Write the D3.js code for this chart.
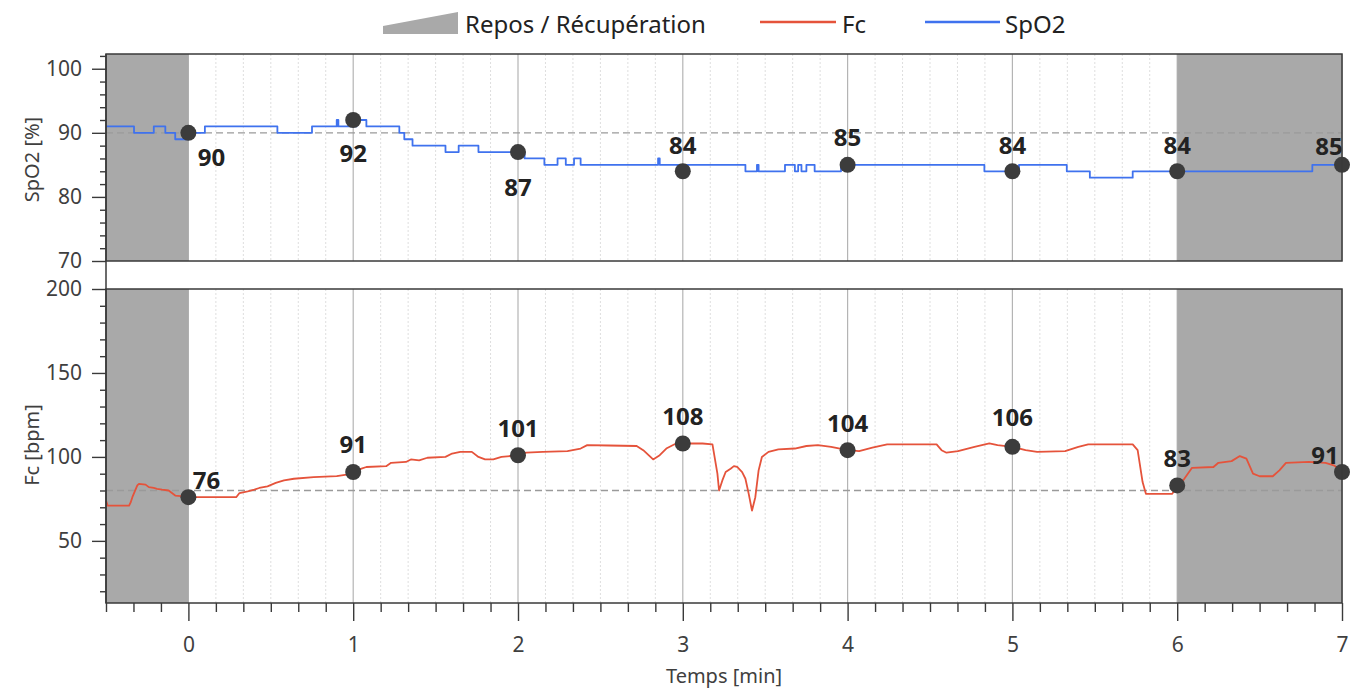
<!DOCTYPE html>
<html>
<head>
<meta charset="utf-8">
<script src="https://cdn.jsdelivr.net/npm/d3@7"></script>
<style>
  html, body { margin: 0; padding: 0; background: #ffffff; }
  svg { display: block; font-family: "Noto Sans", "Open Sans", sans-serif; }
</style>
</head>
<body>
<svg id="chart" width="1365" height="691"></svg>
<script>
// ---- Data -------------------------------------------------------------
// Time axis (minutes) and shaded rest / recovery intervals
const timeDomain = [-0.5, 7];
const restPeriods = [[-0.5, 0], [6, 7]];

// SpO2 (%) step trace: [minute, value] — value holds until the next entry
const spo2Trace = [
  [-0.50, 91], [-0.33, 90], [-0.21, 91], [-0.14, 90], [-0.08, 89], [0.00, 90],
  [0.10, 91], [0.54, 90], [0.75, 91], [0.90, 92], [0.91, 91], [1.02, 92],
  [1.08, 91], [1.28, 90], [1.31, 89], [1.36, 88], [1.56, 87], [1.64, 88],
  [1.76, 87], [2.04, 86], [2.16, 85], [2.24, 86], [2.29, 85], [2.34, 86],
  [2.38, 85], [2.85, 86], [2.86, 85], [3.38, 84], [3.45, 85], [3.46, 84],
  [3.62, 85], [3.68, 84], [3.70, 85], [3.72, 84], [3.75, 85], [3.80, 84],
  [3.96, 85], [4.83, 84], [5.04, 85], [5.33, 84], [5.47, 83], [5.73, 84],
  [6.82, 85], [7.00, 85]
];

// Heart rate Fc (bpm) trace: [minute, value]
const fcTrace = [
  [-0.50, 74], [-0.49, 71], [-0.36, 71], [-0.35, 73], [-0.34, 76], [-0.31, 83],
  [-0.30, 84], [-0.26, 83.5], [-0.24, 82], [-0.21, 81.5], [-0.19, 81], [-0.16, 80.5],
  [-0.12, 80], [-0.08, 77], [-0.03, 76.5], [0.00, 76], [0.10, 76], [0.29, 76],
  [0.31, 78.5], [0.36, 79.5], [0.40, 80.5], [0.43, 81.5], [0.48, 82.5], [0.53, 84.5],
  [0.58, 86], [0.64, 87], [0.76, 88], [0.90, 88.5], [0.96, 89.5], [1.00, 91],
  [1.05, 93], [1.08, 94], [1.20, 94.5], [1.23, 96.5], [1.32, 97], [1.35, 98.5],
  [1.40, 98], [1.45, 99.5], [1.56, 100], [1.60, 102], [1.65, 103], [1.72, 103],
  [1.76, 100], [1.80, 98.5], [1.85, 98.5], [1.90, 100], [2.00, 101], [2.05, 102.5],
  [2.15, 103], [2.30, 103.5], [2.38, 105], [2.42, 107], [2.55, 106.8], [2.72, 106.5],
  [2.76, 104], [2.82, 98.5], [2.86, 101], [2.90, 105], [2.95, 107.5], [3.00, 108],
  [3.12, 108], [3.18, 107.5], [3.21, 90], [3.22, 80], [3.24, 86], [3.26, 91],
  [3.29, 93], [3.31, 94.5], [3.33, 94], [3.36, 91], [3.38, 87], [3.40, 78],
  [3.42, 68], [3.44, 76], [3.46, 92], [3.48, 100], [3.52, 103], [3.58, 104.5],
  [3.68, 105], [3.75, 106.5], [3.82, 107], [3.90, 106], [4.00, 104], [4.07, 103.5],
  [4.15, 105.5], [4.24, 107.5], [4.54, 107.5], [4.57, 104], [4.60, 102.5], [4.67, 103.5],
  [4.77, 106], [4.86, 108], [4.91, 107], [5.00, 106], [5.08, 104], [5.15, 103],
  [5.32, 103.5], [5.40, 106], [5.46, 107.5], [5.73, 107.5], [5.76, 104], [5.79, 85],
  [5.81, 78], [5.97, 78], [6.00, 83], [6.04, 86.5], [6.09, 93.5], [6.22, 94],
  [6.25, 96.5], [6.33, 97.5], [6.38, 100.5], [6.42, 99], [6.46, 90], [6.50, 88.5],
  [6.58, 88.5], [6.62, 92], [6.66, 96.5], [6.80, 97], [6.90, 96.5], [6.95, 95],
  [7.00, 91.5]
];

// Per-minute summary markers
const markerMinutes = [0, 1, 2, 3, 4, 5, 6, 7];
const spo2Markers = [90, 92, 87, 84, 85, 84, 84, 85];
const fcMarkers = [76, 91, 101, 108, 104, 106, 83, 91];

// Reference levels (dashed)
const spo2Reference = 90;
const fcReference = 80;

// Axis ticks
const xTickLabels = [0, 1, 2, 3, 4, 5, 6, 7];
const spo2TickLabels = [70, 80, 90, 100];
const fcTickLabels = [50, 100, 150, 200];

// Legend entries
const legendLabels = ["Repos / Récupération", "Fc", "SpO2"];

// ---- Layout & style ----------------------------------------------------
const colors = {
  rest: "#a9a9a9",
  fc: "#e5533b",
  spo2: "#3f72ee",
  marker: "#3c3c3c",
  frame: "#3a3a3a",
  text: "#3f3f3f",
  label: "#222222",
  ref: "#9a9a9a",
  gridMajor: "#b4b4b4",
  gridMinor: "#dedede"
};
const plotLeft = 106, plotRight = 1342;
const topPanel = { y0: 54, y1: 261 };
const bottomPanel = { y0: 289, y1: 603 };
const tickFont = 21, titleFont = 20, legendFont = 24, markerFont = 24;

// Label placement per marker: [dx, dy] of label centre from marker centre
const spo2LabelOffsets = [[23, 24], [0, 32], [0, 34], [0, -27], [0, -28], [0, -27], [0, -27], [-13, -19]];
const fcLabelOffsets = [[18, -18], [0, -29], [0, -28], [0, -28], [0, -28], [0, -30], [0, -28], [-17, -18]];

const svg = d3.select("#chart");

const x = d3.scaleLinear().domain(timeDomain).range([plotLeft, plotRight]);
const ySpo2 = d3.scaleLinear().domain([70, 102.3]).range([topPanel.y1, topPanel.y0]);
const yFc = d3.scaleLinear().domain([13, 200]).range([bottomPanel.y1, bottomPanel.y0]);

const minorMinutes = d3.range(-3, 43).map(k => k / 6)
  .filter(t => Math.abs(t - Math.round(t)) > 1e-6);

function drawPanel(panel, yScale, trace, curve, lineColor, refLevel, markers, offsets) {
  const g = svg.append("g");
  // vertical grid
  g.selectAll("line.minor").data(minorMinutes)
    .join("line")
    .attr("x1", d => x(d)).attr("x2", d => x(d))
    .attr("y1", panel.y0).attr("y2", panel.y1)
    .attr("stroke", colors.gridMinor).attr("stroke-width", 1)
    .attr("stroke-dasharray", "2,2");
  g.selectAll("line.major").data(xTickLabels)
    .join("line")
    .attr("x1", d => x(d)).attr("x2", d => x(d))
    .attr("y1", panel.y0).attr("y2", panel.y1)
    .attr("stroke", colors.gridMajor).attr("stroke-width", 1.2);
  // rest / recovery shading
  g.selectAll("rect.rest").data(restPeriods)
    .join("rect")
    .attr("x", d => x(d[0])).attr("width", d => x(d[1]) - x(d[0]))
    .attr("y", panel.y0).attr("height", panel.y1 - panel.y0)
    .attr("fill", colors.rest);
  // reference level
  g.append("line")
    .attr("x1", plotLeft).attr("x2", plotRight)
    .attr("y1", yScale(refLevel)).attr("y2", yScale(refLevel))
    .attr("stroke", colors.ref).attr("stroke-width", 1.4)
    .attr("stroke-dasharray", "7,4");
  // trace
  const line = d3.line().x(d => x(d[0])).y(d => yScale(d[1])).curve(curve);
  g.append("path").datum(trace)
    .attr("d", line)
    .attr("fill", "none")
    .attr("stroke", lineColor)
    .attr("stroke-width", 1.8)
    .attr("stroke-linejoin", "round");
  // markers
  const pts = markerMinutes.map((t, i) => ({ t, v: markers[i], off: offsets[i] }));
  g.selectAll("circle.m").data(pts).join("circle")
    .attr("cx", d => x(d.t)).attr("cy", d => yScale(d.v))
    .attr("r", 8).attr("fill", colors.marker);
  g.selectAll("text.m").data(pts).join("text")
    .attr("x", d => x(d.t) + d.off[0])
    .attr("y", d => yScale(d.v) + d.off[1])
    .attr("text-anchor", "middle")
    .attr("dominant-baseline", "central")
    .attr("font-size", markerFont).attr("font-weight", 700)
    .attr("fill", colors.label)
    .text(d => d.v);
  // frame
  g.append("rect")
    .attr("x", plotLeft).attr("y", panel.y0)
    .attr("width", plotRight - plotLeft).attr("height", panel.y1 - panel.y0)
    .attr("fill", "none").attr("stroke", colors.frame).attr("stroke-width", 1.5);
}

drawPanel(topPanel, ySpo2, spo2Trace, d3.curveStepAfter, colors.spo2, spo2Reference,
          spo2Markers, spo2LabelOffsets);
drawPanel(bottomPanel, yFc, fcTrace, d3.curveLinear, colors.fc, fcReference,
          fcMarkers, fcLabelOffsets);

// left axis spine running through both panels
svg.append("line")
  .attr("x1", plotLeft).attr("x2", plotLeft)
  .attr("y1", topPanel.y0).attr("y2", bottomPanel.y1)
  .attr("stroke", colors.frame).attr("stroke-width", 1.5);

function styleAxis(sel) {
  sel.select(".domain").remove();
  sel.selectAll(".tick line").attr("stroke", colors.frame).attr("stroke-width", 1.4);
  sel.selectAll(".tick text").attr("fill", colors.text)
    .attr("font-size", tickFont)
    .attr("font-family", "'Noto Sans', 'Open Sans', sans-serif");
}

// y axes (major + minor ticks)
function yAxes(yScale, majors, minorStep, lo, hi) {
  const minors = d3.range(lo, hi + 0.001, minorStep).filter(v => !majors.includes(v));
  svg.append("g").attr("transform", `translate(${plotLeft},0)`)
    .call(d3.axisLeft(yScale).tickValues(minors).tickSize(6).tickFormat(""))
    .call(styleAxis);
  svg.append("g").attr("transform", `translate(${plotLeft},0)`)
    .call(d3.axisLeft(yScale).tickValues(majors).tickSize(14).tickPadding(10))
    .call(styleAxis);
}
yAxes(ySpo2, spo2TickLabels, 2, 70, 102);
yAxes(yFc, fcTickLabels, 10, 20, 200);

// x axis
svg.append("g").attr("transform", `translate(0,${bottomPanel.y1})`)
  .call(d3.axisBottom(x).tickValues(minorMinutes).tickSize(9).tickFormat(""))
  .call(styleAxis);
svg.append("g").attr("transform", `translate(0,${bottomPanel.y1})`)
  .call(d3.axisBottom(x).tickValues(xTickLabels).tickSize(18).tickPadding(16)
    .tickFormat(d3.format("d")))
  .call(styleAxis);

// axis titles
svg.append("text")
  .attr("x", (plotLeft + plotRight) / 2).attr("y", 675)
  .attr("text-anchor", "middle").attr("dominant-baseline", "central")
  .attr("font-size", titleFont).attr("fill", colors.text)
  .text("Temps [min]");
svg.append("text")
  .attr("transform", `translate(31,${(topPanel.y0 + topPanel.y1) / 2 + 2}) rotate(-90)`)
  .attr("text-anchor", "middle").attr("dominant-baseline", "central")
  .attr("font-size", titleFont).attr("fill", colors.text)
  .text("SpO2 [%]");
svg.append("text")
  .attr("transform", `translate(31,${(bottomPanel.y0 + bottomPanel.y1) / 2 - 1}) rotate(-90)`)
  .attr("text-anchor", "middle").attr("dominant-baseline", "central")
  .attr("font-size", titleFont).attr("fill", colors.text)
  .text("Fc [bpm]");

// legend
const legend = svg.append("g").attr("font-size", legendFont).attr("fill", "#222");
legend.append("path")
  .attr("d", "M383,34 L383,26 L458,12 L458,34 Z")
  .attr("fill", colors.rest);
legend.append("text").attr("x", 465).attr("y", 23)
  .attr("dominant-baseline", "central").text(legendLabels[0]);
legend.append("line").attr("x1", 760).attr("x2", 836).attr("y1", 22).attr("y2", 22)
  .attr("stroke", colors.fc).attr("stroke-width", 2.5);
legend.append("text").attr("x", 842).attr("y", 23)
  .attr("dominant-baseline", "central").text(legendLabels[1]);
legend.append("line").attr("x1", 925).attr("x2", 1000).attr("y1", 22).attr("y2", 22)
  .attr("stroke", colors.spo2).attr("stroke-width", 2.5);
legend.append("text").attr("x", 1005).attr("y", 23)
  .attr("dominant-baseline", "central").text(legendLabels[2]);
</script>
</body>
</html>
